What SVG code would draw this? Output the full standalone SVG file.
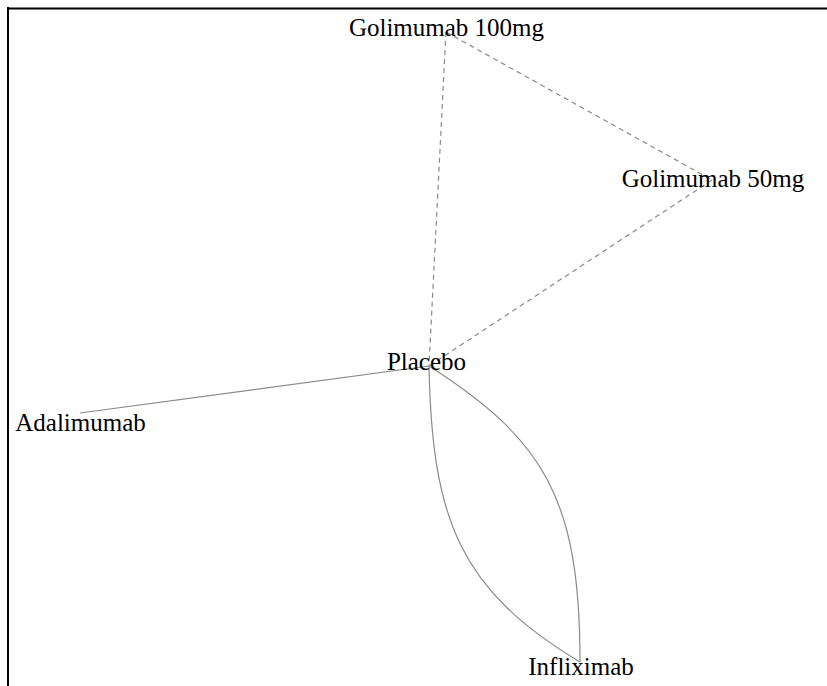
<svg xmlns="http://www.w3.org/2000/svg" width="827" height="686" viewBox="0 0 827 686">
  <style>
    .edge { fill: none; stroke: #8a8a8a; stroke-width: 1.2; }
    .dashed { stroke-dasharray: 5 4; }
    .label { font-family: "Liberation Serif", "Times New Roman", serif; font-size: 25px; fill: #000; text-anchor: middle; }
  </style>
  <rect width="827" height="686" fill="#fff"/>
  <!-- frame: top and left rules -->
  <path d="M7 8.5 H827 M8 7 V686" stroke="#000" stroke-width="2" fill="none"/>

  <g id="edges">
    <path class="edge dashed" d="M446 32 L429 366"/>
    <path class="edge dashed" d="M446 32 L712 180"/>
    <path class="edge dashed" d="M712 180 L429 366"/>
    <path class="edge" d="M429 366 L80 413"/>
    <path class="edge" d="M429 366 C545 440 580 500 580 662"/>
    <path class="edge" d="M429 366 C432 520 460 590 580 662"/>
  </g>

  <g id="golimumab100"><text class="label" x="446.5" y="36">Golimumab 100mg</text></g>
  <g id="golimumab50"><text class="label" x="713" y="187">Golimumab 50mg</text></g>
  <g id="placebo"><text class="label" x="426.5" y="370">Placebo</text></g>
  <g id="adalimumab"><text class="label" x="80.5" y="431">Adalimumab</text></g>
  <g id="infliximab"><text class="label" x="581" y="675">Infliximab</text></g>
</svg>
